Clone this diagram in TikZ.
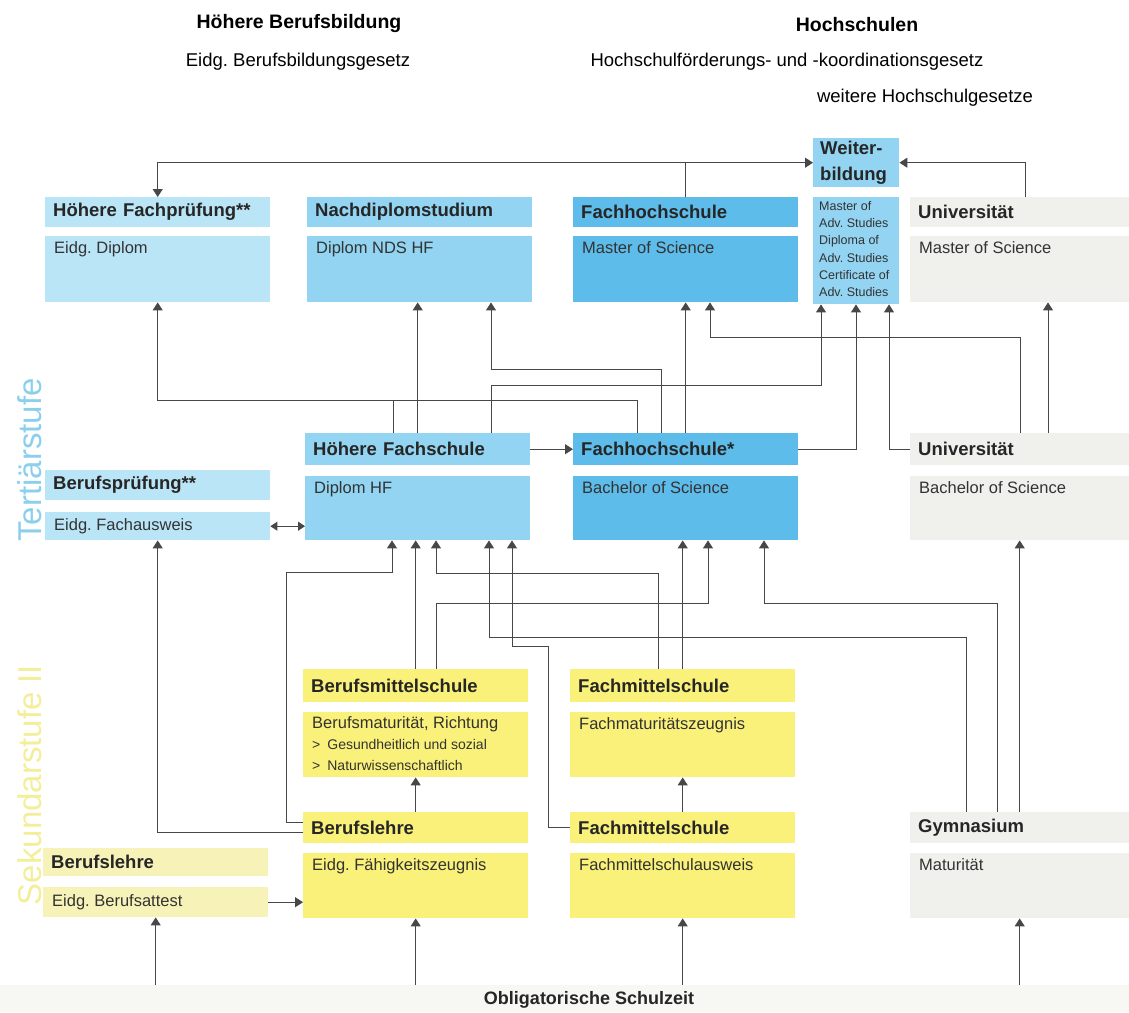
\documentclass[tikz,border=0pt]{standalone}
\usepackage{fontspec}
\setmainfont{Liberation Sans}
\usetikzlibrary{arrows.meta}
\frenchspacing

\definecolor{hellblau}{HTML}{BAE5F6}
\definecolor{mittelblau}{HTML}{92D4F1}
\definecolor{dunkelblau}{HTML}{5DBCEA}
\definecolor{grau}{HTML}{F0F0EC}
\definecolor{gelb}{HTML}{F9F17A}
\definecolor{hellgelb}{HTML}{F7F3B8}
\definecolor{band}{HTML}{F7F7F4}
\definecolor{tertiaer}{HTML}{8CCFEC}
\definecolor{sekundar}{HTML}{F3EE9A}

\newcommand{\kopfschrift}{\fontsize{18.5}{22}\selectfont\bfseries}
\newcommand{\textschrift}{\fontsize{16.5}{21}\selectfont}
\newcommand{\kleinschrift}{\fontsize{12.5}{17.3}\selectfont}
\newcommand{\punktschrift}{\fontsize{14}{21}\selectfont}
\newcommand{\titelschrift}{\fontsize{19.5}{23}\selectfont\bfseries}
\newcommand{\untertitelschrift}{\fontsize{18.5}{22}\selectfont}
\newcommand{\stufenschrift}{\fontsize{33}{38}\selectfont}
\newcommand{\bandschrift}{\fontsize{18}{22}\selectfont\bfseries}

\begin{document}
\begin{tikzpicture}[x=1pt, y=-1pt,
    box/.style={rectangle, inner sep=0pt, anchor=north west},
    kopf/.style={box, inner xsep=8pt, text width=209pt, align=left, minimum height=31pt, font=\kopfschrift, text=black!85},
    inhalt/.style={box, minimum width=225pt, minimum height=65pt},
    inhalttext/.style={anchor=north west, inner xsep=9pt, inner ysep=5pt, align=left, font=\textschrift, text=black!80},
    pfeil/.style={draw=black!72, line width=1pt, -{Triangle[length=8pt, width=10pt]}},
    doppelpfeil/.style={draw=black!72, line width=1pt, {Triangle[length=7pt, width=9pt]}-{Triangle[length=7pt, width=9pt]}},
    linie/.style={draw=black!72, line width=1pt}]

        % fix the frame of the picture
        \useasboundingbox (0,0) rectangle (1129,1012);

        % titles above the two columns
        \node[font=\titelschrift] (t-hbb) at (299,23) {Höhere Berufsbildung};
        \node[font=\untertitelschrift] (t-bbg) at (298,62) {Eidg. Berufsbildungsgesetz};
        \node[font=\titelschrift] (t-hs) at (857,25) {Hochschulen};
        \node[font=\untertitelschrift] (t-hfkg) at (787,62) {Hochschulförderungs- und -koordinationsgesetz};
        \node[font=\untertitelschrift] (t-whg) at (925,98) {weitere Hochschulgesetze};

        % the two stages on the left
        \node[rotate=90, font=\stufenschrift, text=tertiaer] (tertiaer) at (30,460) {Tertiärstufe};
        \node[rotate=90, font=\stufenschrift, text=sekundar] (sek) at (30,785) {Sekundarstufe II};

        % top row: diplomas and masters
        \node[kopf, fill=hellblau, minimum height=30pt] (hfp-k) at (45,197) {Höhere Fachprüfung**};
        \node[inhalt, fill=hellblau, minimum height=66pt] (hfp-b) at (45,236) {};
        \node[inhalttext] (hfp-t) at (hfp-b.north west) {Eidg. Diplom};

        \node[kopf, fill=mittelblau, minimum height=30pt] (nds-k) at (307,197) {Nachdiplomstudium};
        \node[inhalt, fill=mittelblau, minimum height=66pt] (nds-b) at (307,236) {};
        \node[inhalttext] (nds-t) at (nds-b.north west) {Diplom NDS HF};

        \node[kopf, fill=dunkelblau, minimum height=30pt] (fhm-k) at (573,197) {Fachhochschule};
        \node[inhalt, fill=dunkelblau, minimum height=66pt] (fhm-b) at (573,236) {};
        \node[inhalttext] (fhm-t) at (fhm-b.north west) {Master of Science};

        \node[kopf, fill=mittelblau, text width=72pt, inner xsep=7pt, minimum height=49pt,
              font=\fontsize{18.5}{26}\selectfont\bfseries] (wb-k) at (813,138) {Weiter-\\bildung};
        \node[inhalt, fill=mittelblau, minimum width=86pt, minimum height=107pt] (wb-b) at (813,197) {};
        \node[inhalttext, font=\kleinschrift, inner xsep=6pt, inner ysep=4pt] (wb-t) at (wb-b.north west)
            {Master of\\Adv. Studies\\Diploma of\\Adv. Studies\\Certificate of\\Adv. Studies};

        \node[kopf, fill=grau, text width=203pt, minimum height=30pt] (unim-k) at (910,197) {Universität};
        \node[inhalt, fill=grau, minimum width=219pt, minimum height=66pt] (unim-b) at (910,236) {};
        \node[inhalttext] (unim-t) at (unim-b.north west) {Master of Science};

        % second row: bachelors
        \node[kopf, fill=hellblau, minimum height=30pt] (bp-k) at (45,470) {Berufsprüfung**};
        \node[inhalt, fill=hellblau, minimum height=28pt] (bp-b) at (45,512) {};
        \node[inhalttext, anchor=west, inner ysep=0pt] (bp-t) at (bp-b.west) {Eidg. Fachausweis};

        \node[kopf, fill=mittelblau, minimum height=32pt] (hf-k) at (305,433) {Höhere Fachschule};
        \node[inhalt, fill=mittelblau, minimum height=64pt] (hf-b) at (305,476) {};
        \node[inhalttext] (hf-t) at (hf-b.north west) {Diplom HF};

        \node[kopf, fill=dunkelblau, minimum height=32pt] (fhb-k) at (573,433) {Fachhochschule*};
        \node[inhalt, fill=dunkelblau, minimum height=64pt] (fhb-b) at (573,476) {};
        \node[inhalttext] (fhb-t) at (fhb-b.north west) {Bachelor of Science};

        \node[kopf, fill=grau, text width=203pt, minimum height=32pt] (unib-k) at (910,433) {Universität};
        \node[inhalt, fill=grau, minimum width=219pt, minimum height=64pt] (unib-b) at (910,476) {};
        \node[inhalttext] (unib-t) at (unib-b.north west) {Bachelor of Science};

        % third row: maturity schools
        \node[kopf, fill=gelb, minimum height=33pt] (bms-k) at (303,669) {Berufsmittelschule};
        \node[inhalt, fill=gelb] (bms-b) at (303,712) {};
        \node[inhalttext, inner ysep=4pt] (bms-t) at (bms-b.north west)
            {Berufsmaturität, Richtung\\{\punktschrift >\hspace{7pt}Gesundheitlich und sozial}\\{\punktschrift >\hspace{7pt}Naturwissenschaftlich}};

        \node[kopf, fill=gelb, minimum height=33pt] (fms1-k) at (570,669) {Fachmittelschule};
        \node[inhalt, fill=gelb] (fms1-b) at (570,712) {};
        \node[inhalttext] (fms1-t) at (fms1-b.north west) {Fachmaturitätszeugnis};

        % fourth row: upper secondary
        \node[kopf, fill=hellgelb, minimum height=28pt] (eba-k) at (43,848) {Berufslehre};
        \node[inhalt, fill=hellgelb, minimum height=30pt] (eba-b) at (43,887) {};
        \node[inhalttext, anchor=west, inner ysep=0pt] (eba-t) at (eba-b.west) {Eidg. Berufsattest};

        \node[kopf, fill=gelb] (efz-k) at (303,812) {Berufslehre};
        \node[inhalt, fill=gelb] (efz-b) at (303,853) {};
        \node[inhalttext] (efz-t) at (efz-b.north west) {Eidg. Fähigkeitszeugnis};

        \node[kopf, fill=gelb] (fms2-k) at (570,812) {Fachmittelschule};
        \node[inhalt, fill=gelb] (fms2-b) at (570,853) {};
        \node[inhalttext] (fms2-t) at (fms2-b.north west) {Fachmittelschulausweis};

        \node[kopf, fill=grau, text width=203pt] (gym-k) at (910,812) {Gymnasium};
        \node[inhalt, fill=grau, minimum width=219pt] (gym-b) at (910,853) {};
        \node[inhalttext] (gym-t) at (gym-b.north west) {Maturität};

        % compulsory school at the bottom
        \node[box, fill=band, minimum width=1129pt, minimum height=27pt] (schule) at (0,985) {};
        \node[font=\bandschrift, text=black!85] (schule-t) at (589,1000) {Obligatorische Schulzeit};

        % junction of the two lines into the Hoehere Fachpruefung
        \coordinate (knoten-hfp) at (393,400);

        % links into Weiterbildung and the top row
        \draw[pfeil] (fhm-k.north) |- (wb-k.west);
        \draw[pfeil] (fhm-k.north) |- (hfp-k.north |- wb-k.west) -- (hfp-k.north);
        \draw[pfeil] ([xshift=115pt]unim-k.north west) |- (wb-k.east);
        \draw[pfeil] ([xshift=88pt]hf-k.north west) -- (knoten-hfp) -| (hfp-b.south);
        \draw[linie] ([xshift=64pt]fhb-k.north west) |- (knoten-hfp);
        \draw[pfeil] (hf-k.north) -- (hf-k.north |- nds-b.south);
        \draw[pfeil] ([xshift=88pt]fhb-k.north west) |- (491,369) -- ([xshift=184pt]nds-b.south west);
        \draw[pfeil] ([xshift=186pt]hf-k.north west) |- (821,385) -- ([xshift=8pt]wb-b.south west);
        \draw[pfeil] (fhb-k.north) -- (fhm-b.south);
        \draw[pfeil] (fhb-k.east) -| ([xshift=43pt]wb-b.south west);
        \draw[pfeil] (unib-k.west) -| ([xshift=76pt]wb-b.south west);
        \draw[pfeil] ([xshift=110pt]unib-k.north west) |- (710,337) -- ([xshift=137pt]fhm-b.south west);
        \draw[pfeil] ([xshift=138pt]unib-k.north west) -- ([xshift=138pt]unim-b.south west);
        \draw[pfeil] (hf-k.east) -- (fhb-k.west);

        % links into the second row
        \draw[doppelpfeil] (bp-b.east) -- (bp-b.east -| hf-b.west);
        \draw[pfeil] ([yshift=-5pt]efz-k.west) -| (bp-b.south);
        \draw[pfeil] ([yshift=5pt]efz-k.west) -| (286,572) -| ([xshift=87pt]hf-b.south west);
        \draw[pfeil] (bms-k.north) -- (bms-k.north |- hf-b.south);
        \draw[pfeil] ([xshift=88pt]fms1-k.north west) |- (436,573) -- ([xshift=131pt]hf-b.south west);
        \draw[pfeil] ([xshift=56pt]gym-k.north west) |- (489,637) -- ([xshift=184pt]hf-b.south west);
        \draw[pfeil] (fms2-k.west) -| (548,646) -| ([xshift=207pt]hf-b.south west);
        \draw[pfeil] (fms1-k.north) -- (fms1-k.north |- fhb-b.south);
        \draw[pfeil] ([xshift=133pt]bms-k.north west) |- (708,603) -- ([xshift=135pt]fhb-b.south west);
        \draw[pfeil] ([xshift=87pt]gym-k.north west) |- (764,603) -- ([xshift=191pt]fhb-b.south west);
        \draw[pfeil] (gym-k.north) -- (unib-b.south);

        % links inside the secondary stage
        \draw[pfeil] (efz-k.north) -- (bms-b.south);
        \draw[pfeil] (fms2-k.north) -- (fms1-b.south);
        \draw[pfeil] (eba-b.east) -- (eba-b.east -| efz-b.west);
        \foreach \ziel in {eba-b, efz-b, fms2-b, gym-b}
            \draw[pfeil] (schule.north -| \ziel.south) -- (\ziel.south);
\end{tikzpicture}
\end{document}
